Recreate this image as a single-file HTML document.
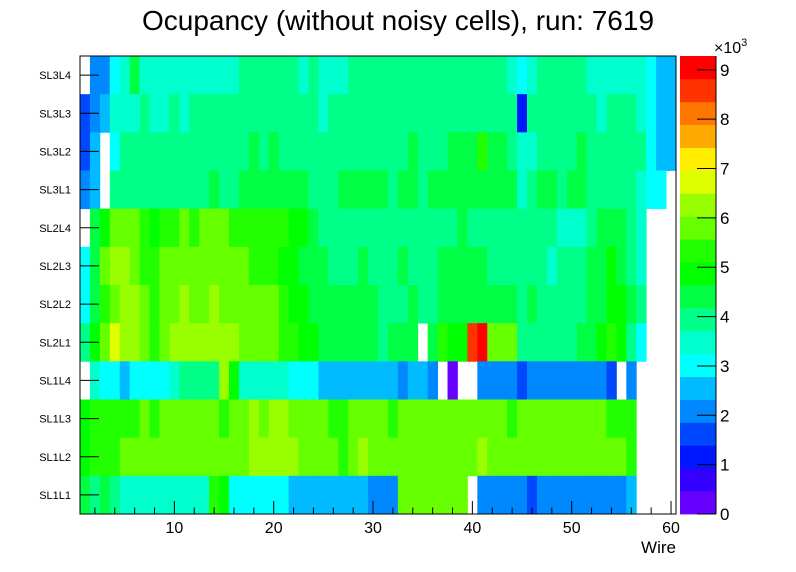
<!DOCTYPE html>
<html><head><meta charset="utf-8"><style>
html,body{margin:0;padding:0;background:#fff;}
svg{display:block;font-family:"Liberation Sans",sans-serif;}
</style></head><body>
<svg id="chart" width="796" height="572" viewBox="0 0 796 572">
<rect x="0" y="0" width="796" height="572" fill="#fff"/>
<text x="398" y="30" font-size="28" text-anchor="middle">Ocupancy (without noisy cells), run: 7619</text>
<g id="cells"></g>
<g id="axes"></g>
<g id="cbar"></g>
<text x="676" y="553" font-size="17" text-anchor="end">Wire</text>
</svg>
<script>
const rowLabels = ["SL3L4","SL3L3","SL3L2","SL3L1","SL2L4","SL2L3","SL2L2","SL2L1","SL1L4","SL1L3","SL1L2","SL1L1"];
const xTicks = [10,20,30,40,50,60];
const zTicks = [0,1,2,3,4,5,6,7,8,9];
const zMax = 9280;
const bandColors = ["#6600ff","#3300ff","#0018ff","#0048ff","#0088ff","#00bbff","#00ffff","#00ffcc","#00ff88","#00ff44","#00ff00","#22ff00","#66ff00","#99ff00","#ddff00","#ffee00","#ffaa00","#ff7700","#ff3300","#ff0000"];
const rowSL3L4 = [0,2100,2100,3000,3500,4400,3500,3500,3500,3500,3500,3500,3500,3500,3500,3500,3900,3900,3900,3900,3900,3900,3500,3900,3500,3500,3500,3900,3900,3900,3900,3900,3900,3900,3900,3900,3900,3900,3900,3900,3900,3900,3900,3500,3000,3500,3900,3900,3900,3900,3900,3500,3500,3500,3500,3500,3500,3000,2500,2500];
const rowSL3L3 = [1600,2100,2500,3500,3500,3500,3900,3500,3500,3900,3500,3900,3900,3900,3900,3900,3900,3900,3900,3900,3900,3900,3900,3900,3500,3900,3900,3900,3900,3900,3900,3900,3900,3900,3900,3900,3900,3900,3900,3900,3900,3900,3900,3900,1200,3900,3900,3900,3900,3900,3900,3900,3500,3900,3900,3900,3500,3000,2500,2500];
const rowSL3L2 = [1600,2500,0,3000,3900,3900,3900,3900,3900,3900,3900,3900,3900,3900,3900,3900,3900,4400,3900,4400,3900,3900,3900,3900,3900,3900,3900,3900,3900,3900,3900,3900,3900,4400,3900,3900,3900,4400,4400,4400,5300,4400,4400,3900,3500,3500,3900,3900,3900,3900,4400,3900,3900,3900,3900,3900,3900,3000,2500,2500];
const rowSL3L1 = [2100,2500,0,3900,3900,3900,3900,3900,3900,3900,3900,3900,3900,4400,3900,3900,4400,4400,4400,4400,4400,4400,4400,3900,3900,3900,4400,4400,4400,4400,4400,3900,4400,4400,3900,4400,4400,4400,4400,4400,4400,4400,4400,4400,3500,3900,4400,4400,3900,4400,4400,3900,3900,3900,3900,3900,3500,3000,3000,0];
const rowSL2L4 = [0,4400,4900,5800,5800,5800,5300,4900,5300,5300,5800,5300,5800,5800,5800,5300,5300,5300,5300,5300,5300,4900,4900,4400,3900,3900,3900,3900,3900,3900,3900,3900,3900,3900,3900,3900,3900,3900,4400,3900,3900,3900,3900,3900,3900,3900,3900,3900,3500,3500,3500,3900,4400,4400,4400,3900,3500,0,0,0];
const rowSL2L3 = [3000,4400,5800,6300,6300,5800,5300,5300,5800,5800,5800,5800,5800,5800,5800,5800,5800,5300,5300,5300,4900,4900,4400,4400,4400,3900,3900,3900,4400,3900,3900,3900,4400,3900,3900,3900,4400,4400,4400,4400,4400,3900,3900,3900,3900,3900,3900,3500,3900,3900,3900,4400,4400,4900,4400,3900,3500,0,0,0];
const rowSL2L2 = [3000,4400,5300,5800,6300,6300,5800,5300,5800,5800,6300,5800,5800,6300,5800,5800,5800,5800,5800,5800,5300,4900,4900,4400,4400,4400,4400,4400,4400,4400,3900,3900,3900,4400,3900,3900,4400,4400,4400,4400,4400,4400,4400,4400,3900,4400,3900,3900,3900,3900,3900,4400,4400,4900,4900,4400,3900,0,0,0];
const rowSL2L1 = [3900,4900,5800,6700,6300,6300,5800,5300,5800,6300,6300,6300,6300,6300,6300,6300,5800,5800,5800,5800,5300,5300,4900,4900,4400,4400,4400,4400,4400,4400,3900,4400,4400,4400,0,4400,5300,4900,4900,8600,9000,5800,5800,5800,3900,3900,3900,3900,3900,3900,4400,4400,4900,5300,4900,3900,3000,0,0,0];
const rowSL1L4 = [0,3500,3000,3000,2500,3000,3000,3000,3000,3500,3900,3900,3900,3900,6300,4900,3500,3500,3500,3500,3500,3000,3000,3000,2500,2500,2500,2500,2500,2500,2500,2500,2100,2500,2500,2100,0,200,0,0,2100,2100,2100,2100,1600,2100,2100,2100,2100,2100,2100,2100,2100,1600,0,2100,0,0,0,0];
const rowSL1L3 = [4900,5300,5300,5300,5300,5300,5800,5300,5800,5800,5800,5800,5800,5800,5300,5800,5800,6300,5800,6300,6300,5800,5800,5800,5800,5300,5300,5800,5800,5800,5800,5300,5800,5800,5800,5800,5800,5800,5800,5800,5800,5800,5800,5300,5800,5800,5800,5800,5800,5800,5800,5800,5800,5300,5300,5300,0,0,0,0];
const rowSL1L2 = [4900,5300,5300,5300,5800,5800,5800,5800,5800,5800,5800,5800,5800,5800,5800,5800,5800,6300,6300,6300,6300,6300,5800,5800,5800,5800,5300,5800,6300,5800,5800,5800,5800,5800,5800,5800,5800,5800,5800,5800,6300,5800,5800,5800,5800,5800,5800,5800,5800,5800,5800,5800,5800,5800,5800,5300,0,0,0,0];
const rowSL1L1 = [4400,3900,4400,3900,3500,3500,3500,3500,3500,3500,3500,3500,3500,5300,4900,3000,3000,3000,3000,3000,3000,2500,2500,2500,2500,2500,2500,2500,2500,2100,2100,2100,5800,5800,5800,5800,5800,5800,5800,0,2100,2100,2100,2100,2100,1600,2100,2100,2100,2100,2100,2100,2100,2100,2100,2500,0,0,0,0];
const rows = [rowSL3L4,rowSL3L3,rowSL3L2,rowSL3L1,rowSL2L4,rowSL2L3,rowSL2L2,rowSL2L1,rowSL1L4,rowSL1L3,rowSL1L2,rowSL1L1];

const NS="http://www.w3.org/2000/svg";
const PL=80, PR=676, PT=56, PB=514;
const nx=60;
const xScale = v => PL + (v-0.5)*(PR-PL)/nx;
const rowH = (PB-PT)/rowLabels.length;
const yRow = i => PT + i*rowH;
const zScale = v => PB - v/zMax*(PB-PT);
function colorOf(v){ let k=Math.floor(v/zMax*bandColors.length); if(k<0)k=0; if(k>=bandColors.length)k=bandColors.length-1; return bandColors[k]; }
function mk(tag,attrs,parent){ const e=document.createElementNS(NS,tag); for(const k in attrs) e.setAttribute(k,attrs[k]); parent.appendChild(e); return e; }

const cells=document.getElementById('cells');
rows.forEach((row,ri)=>{
  row.forEach((v,ci)=>{
    if(v<=0) return;
    const x0=xScale(ci+0.5), x1=xScale(ci+1.5);
    const r=mk('rect',{x:x0.toFixed(2),y:yRow(ri).toFixed(2),width:(x1-x0+0.4).toFixed(2),height:(rowH+0.4).toFixed(2),fill:colorOf(v)},cells);
    
    
  });
});

const ax=document.getElementById('axes');
const frame=mk('rect',{x:PL,y:PT,width:PR-PL,height:PB-PT,fill:'none',stroke:'#000','stroke-width':1},ax);


for(let v=2; v<=60; v+=2){
  const x=xScale(v);
  const major = v%10===0;
  const t=mk('line',{x1:x,x2:x,y1:PB,y2:PB-(major?13:6.5),stroke:'#000','stroke-width':1},ax);
  
  
}
xTicks.forEach(v=>{
  const t=mk('text',{x:xScale(v),y:533,'font-size':16,'text-anchor':'middle'},ax);
  t.textContent=v;
  
  
});
rowLabels.forEach((lab,i)=>{
  const yc=yRow(i)+rowH/2;
  const t=mk('line',{x1:PL,x2:PL+19,y1:yc,y2:yc,stroke:'#000','stroke-width':1},ax);
  
  
  const tx=mk('text',{x:71,y:yc+4,'font-size':11,'text-anchor':'end'},ax);
  tx.textContent=lab;
  
  
});

const cb=document.getElementById('cbar');
const CX0=680, CX1=716;
bandColors.forEach((c,k)=>{
  const y0=zScale((k+1)*zMax/bandColors.length), y1=zScale(k*zMax/bandColors.length);
  const r=mk('rect',{x:CX0,y:y0.toFixed(2),width:CX1-CX0,height:(y1-y0+0.4).toFixed(2),fill:c},cb);
  
  
});
const cl=mk('line',{x1:CX1,x2:CX1,y1:PT,y2:PB,stroke:'#000','stroke-width':1},cb);


zTicks.forEach(v=>{
  const y=zScale(v*1000);
  const t=mk('line',{x1:CX1-19,x2:CX1,y1:y,y2:y,stroke:'#000','stroke-width':1},cb);
  
  
  const tx=mk('text',{x:720,y:y+6,'font-size':17},cb);
  tx.textContent=v;
  
  
});
const ex=mk('text',{x:714,y:53,'font-size':16},cb);
ex.innerHTML='×10<tspan dy="-7" font-size="11">3</tspan>';


</script>
</body></html>
